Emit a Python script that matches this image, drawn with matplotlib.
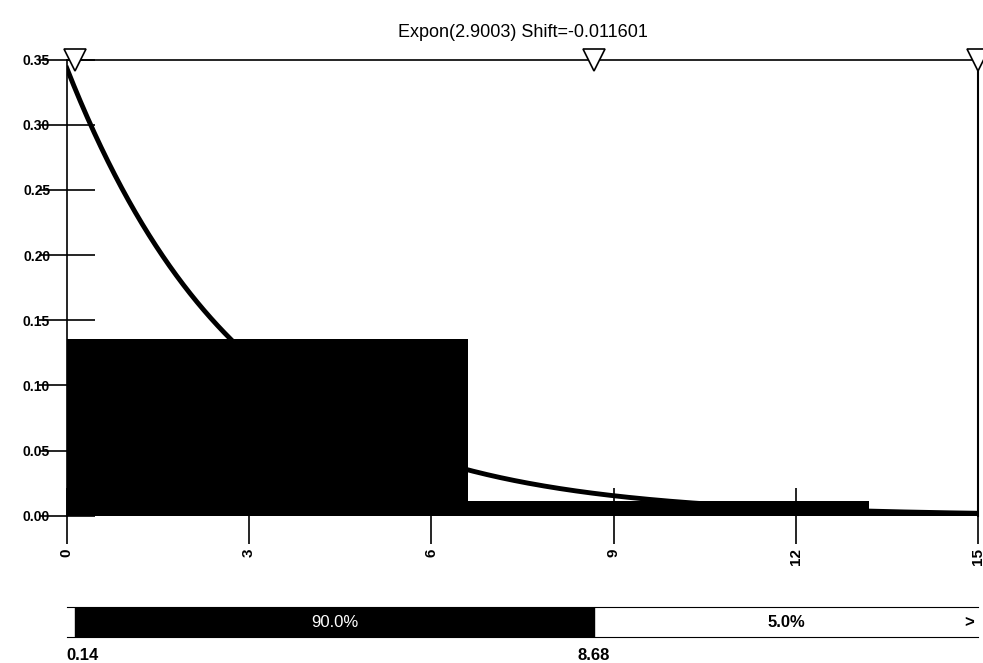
import numpy as np
import matplotlib
matplotlib.use("Agg")
import matplotlib.pyplot as plt

plt.rcParams['font.family'] = ['Liberation Sans', 'DejaVu Sans']
bin_edges = [0.0, 6.6, 13.2, 15.0]
bin_heights = [0.136, 0.011, 0.002]
beta = 2.9003
shift = -0.011601
xticks = [0, 3, 6, 9, 12, 15]
yticks = [0.00, 0.05, 0.10, 0.15, 0.20, 0.25, 0.30, 0.35]
lo, hi = 0.14, 8.68
pct = ["90.0%", "5.0%"]

fig = plt.figure(figsize=(9.83, 6.63), dpi=100)
ax = fig.add_axes([0.068, 0.222, 0.927, 0.688])
w = np.diff(bin_edges)
ax.bar(bin_edges[:-1], bin_heights, width=w, align='edge', color='black', zorder=2)
x = np.linspace(0, 15, 400)
y = np.exp(-(x - shift) / beta) / beta
ax.plot(x, y, color='black', lw=3.5, zorder=3)
ax.set_xlim(0, 15); ax.set_ylim(0, 0.35)
ax.set_xticks(xticks)
ax.set_xticklabels([str(t) for t in xticks], rotation=90, fontsize=11, fontweight='bold')
ax.set_yticks(yticks)
ax.set_yticklabels([f"{t:.2f}" for t in yticks], fontsize=10, fontweight='bold')
ax.tick_params(direction='inout', length=40, width=1.2)
ax.tick_params(axis='y', pad=-8)
for s in ['left', 'top', 'right']:
    ax.spines[s].set_linewidth(1.2)
ax.spines['bottom'].set_visible(False)
ax.spines['right'].set_linewidth(1.5)
for xv in [lo, hi, 15]:
    ax.plot([xv], [0.35], marker='v', ms=16, mfc='white', mec='black', mew=1.2, clip_on=False, zorder=5)
ax.set_title("Expon(2.9003) Shift=-0.011601", fontsize=13, pad=16)

bx = fig.add_axes([0.068, 0.039, 0.927, 0.045])
bx.set_xlim(0, 15); bx.set_ylim(0, 1)
bx.axvspan(lo, hi, color='black')
bx.text((lo + hi) / 2, 0.5, pct[0], color='white', ha='center', va='center', fontsize=12)
bx.text((hi + 15) / 2, 0.5, pct[1], color='black', ha='center', va='center', fontsize=12, fontweight='bold')
bx.text(14.85, 0.5, ">", ha='center', va='center', fontsize=12, fontweight='bold')
bx.set_xticks([]); bx.set_yticks([])
for s in ['left', 'right']:
    bx.spines[s].set_visible(False)
fig.text(0.068, 0.0, f"{lo:.2f}", fontsize=12, fontweight='bold', va='bottom')
fig.text(0.068 + 0.927 * hi / 15, 0.0, f"{hi:.2f}", fontsize=12, fontweight='bold', va='bottom', ha='center')
fig.savefig("out.png", dpi=100)
